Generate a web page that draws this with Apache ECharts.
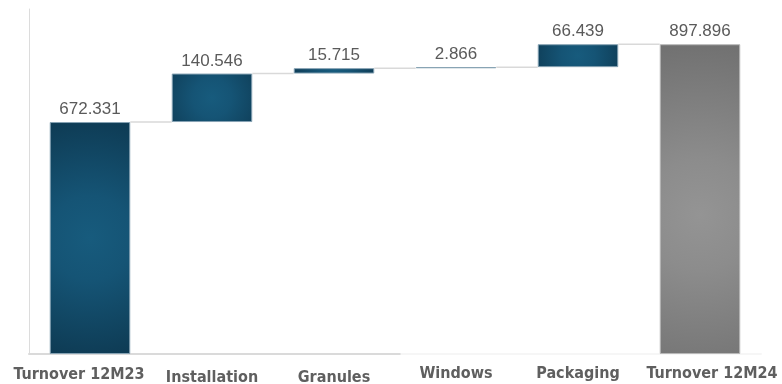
<!DOCTYPE html>
<html>
<head>
<meta charset="utf-8">
<script src="https://cdn.jsdelivr.net/npm/echarts@6/dist/echarts.min.js"></script>
<style>
html,body{margin:0;padding:0;background:#fff;}
#chart{width:782px;height:384px;}
</style>
</head>
<body>
<div id="chart"></div>
<script>
// ---- data ----
var categories = ['Turnover 12M23', 'Installation', 'Granules', 'Windows', 'Packaging', 'Turnover 12M24'];
var values = [672.331, 140.546, 15.715, 2.866, 66.439, 897.896];
var isTotal = [true, false, false, false, false, true];
var yMax = 1000;

// ---- styles (per bar gradient spread) ----
var gradRadius = [1.5, 1.15, 8, 40, 2.1, 2.3];

// ---- build waterfall structure ----
var bases = [], levels = [], run = 0;
for (var i = 0; i < values.length; i++) {
  if (isTotal[i]) { bases.push(0); run = values[i]; }
  else { bases.push(run); run += values[i]; }
  levels.push(run);
}

function blue(r) {
  return {type:'radial', x:0.5, y:0.5, r:r,
    colorStops:[{offset:0,color:'#175b7d'},{offset:0.35,color:'#155475'},{offset:1,color:'#0e3b54'}]};
}
function gray(r) {
  return {type:'radial', x:0.5, y:0.55, r:r,
    colorStops:[{offset:0,color:'#949494'},{offset:0.3,color:'#8c8c8c'},{offset:1,color:'#6e6e6e'}]};
}

var deltaData = values.map(function (v, i) {
  var last = i === values.length - 1;
  return {
    value: v,
    itemStyle: last ? {color: gray(gradRadius[i]), borderColor:'#b8b8b8'} :
      {color: blue(gradRadius[i]), borderColor:'#86a2b3'}
  };
});

var catData = categories.map(function (c, i) {
  var pad = [0, 0, 0, 0];
  if (i === 0) pad = [1, 22, 0, 0];
  if (i === 1 || i === 2) pad = [4, 0, 0, 0];
  if (i === categories.length - 1) pad = [0, 0, 0, 24];
  return {value: c, textStyle: {padding: pad}};
});

var connData = [];
for (var k = 0; k < values.length - 1; k++) connData.push([k, levels[k]]);

var chart = echarts.init(document.getElementById('chart'));
chart.setOption({
  animation: false,
  backgroundColor: '#ffffff',
  grid: {left: 29, right: 21, top: 9, bottom: 30, containLabel: false, outerBoundsMode: 'none'},
  xAxis: {
    type: 'category',
    data: catData,
    axisTick: {show: false},
    axisLine: {show: true, lineStyle: {width: 2, color: {
      type:'linear', x:0, y:0, x2:1, y2:0,
      colorStops:[{offset:0,color:'#dadada'},{offset:0.507,color:'#dadada'},
                  {offset:0.508,color:'#f6f6f6'},{offset:1,color:'#f6f6f6'}]}}},
    axisLabel: {
      interval: 0, margin: 12,
      color: '#5f5f5f', fontSize: 16, fontWeight: 'bold',
      fontFamily: '"DejaVu Sans Condensed", "DejaVu Sans", sans-serif'
    }
  },
  yAxis: {
    type: 'value', min: 0, max: yMax,
    axisLine: {show: true, lineStyle: {color: '#dcdcdc', width: 1}},
    axisTick: {show: false},
    axisLabel: {show: false},
    splitLine: {show: false}
  },
  series: [
    {
      type: 'bar', stack: 'wf', barWidth: '66%',
      itemStyle: {color: 'transparent'},
      emphasis: {disabled: true},
      data: bases
    },
    {
      type: 'bar', stack: 'wf', barWidth: '66%',
      itemStyle: {borderWidth: 1},
      label: {
        show: true, position: 'top', distance: 4,
        color: '#5a5a5a', fontSize: 17,
        fontFamily: '"Liberation Sans", Arial, sans-serif',
        formatter: function (p) { return p.value.toFixed(3); }
      },
      data: deltaData
    },
    {
      type: 'custom', z: 1, silent: true,
      data: connData,
      renderItem: function (params, api) {
        var idx = api.value(0), lvl = api.value(1);
        var p1 = api.coord([idx, lvl]);
        var p2 = api.coord([idx + 1, lvl]);
        var bw = api.size([1, 0])[0] * 0.66;
        return {
          type: 'line',
          shape: {x1: p1[0] + bw / 2, y1: p1[1], x2: p2[0] - bw / 2, y2: p1[1]},
          style: {stroke: '#d9d9d9', lineWidth: 1.5}
        };
      }
    }
  ]
});
</script>
</body>
</html>
